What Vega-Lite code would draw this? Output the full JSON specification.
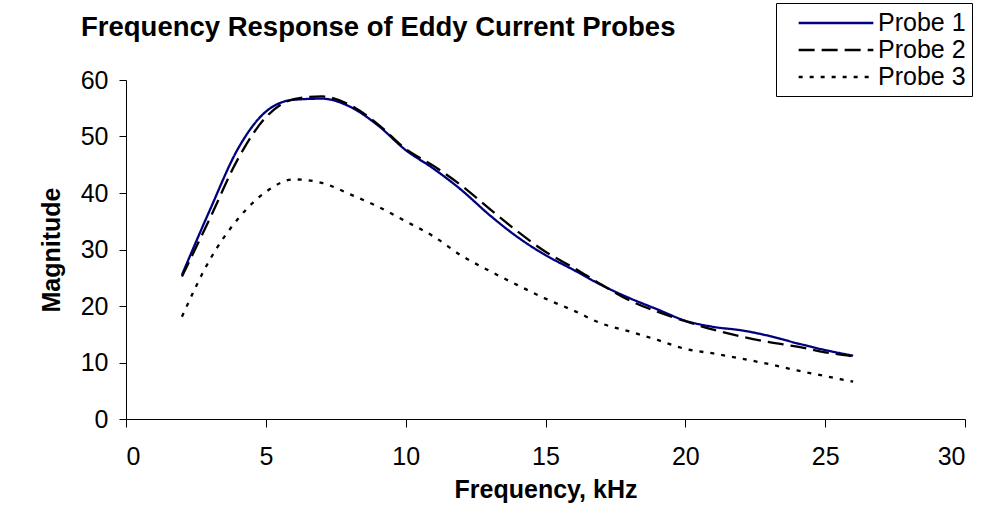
{
  "$schema": "https://vega.github.io/schema/vega-lite/v6.json",
  "width": 839,
  "height": 339,
  "autosize": {"type": "none"},
  "padding": {"left": 126, "top": 80, "right": 18, "bottom": 110},
  "background": "white",
  "title": {
    "text": "Frequency Response of Eddy Current Probes",
    "orient": "none",
    "anchor": "start",
    "frame": "group",
    "dx": -45,
    "dy": -44,
    "baseline": "alphabetic",
    "font": "Liberation Sans",
    "fontSize": 27.5,
    "fontWeight": "bold",
    "color": "black"
  },
  "data": {
    "values": [
      {"f": 2, "m": 25.5, "probe": "Probe 1"},
      {"f": 3, "m": 37.0, "probe": "Probe 1"},
      {"f": 4, "m": 47.8, "probe": "Probe 1"},
      {"f": 5, "m": 54.4, "probe": "Probe 1"},
      {"f": 6, "m": 56.5, "probe": "Probe 1"},
      {"f": 7, "m": 56.7, "probe": "Probe 1"},
      {"f": 8, "m": 55.3, "probe": "Probe 1"},
      {"f": 9, "m": 52.0, "probe": "Probe 1"},
      {"f": 10, "m": 47.6, "probe": "Probe 1"},
      {"f": 11, "m": 44.3, "probe": "Probe 1"},
      {"f": 12, "m": 40.5, "probe": "Probe 1"},
      {"f": 13, "m": 36.1, "probe": "Probe 1"},
      {"f": 14, "m": 32.2, "probe": "Probe 1"},
      {"f": 15, "m": 29.0, "probe": "Probe 1"},
      {"f": 16, "m": 26.4, "probe": "Probe 1"},
      {"f": 17, "m": 23.7, "probe": "Probe 1"},
      {"f": 18, "m": 21.4, "probe": "Probe 1"},
      {"f": 19, "m": 19.4, "probe": "Probe 1"},
      {"f": 20, "m": 17.4, "probe": "Probe 1"},
      {"f": 21, "m": 16.3, "probe": "Probe 1"},
      {"f": 22, "m": 15.7, "probe": "Probe 1"},
      {"f": 23, "m": 14.7, "probe": "Probe 1"},
      {"f": 24, "m": 13.4, "probe": "Probe 1"},
      {"f": 25, "m": 12.2, "probe": "Probe 1"},
      {"f": 26, "m": 11.2, "probe": "Probe 1"},
      {"f": 2, "m": 25.2, "probe": "Probe 2"},
      {"f": 3, "m": 35.5, "probe": "Probe 2"},
      {"f": 4, "m": 46.0, "probe": "Probe 2"},
      {"f": 5, "m": 53.4, "probe": "Probe 2"},
      {"f": 6, "m": 56.6, "probe": "Probe 2"},
      {"f": 7, "m": 57.1, "probe": "Probe 2"},
      {"f": 8, "m": 55.6, "probe": "Probe 2"},
      {"f": 9, "m": 52.2, "probe": "Probe 2"},
      {"f": 10, "m": 47.8, "probe": "Probe 2"},
      {"f": 11, "m": 44.8, "probe": "Probe 2"},
      {"f": 12, "m": 41.3, "probe": "Probe 2"},
      {"f": 13, "m": 37.2, "probe": "Probe 2"},
      {"f": 14, "m": 33.2, "probe": "Probe 2"},
      {"f": 15, "m": 29.6, "probe": "Probe 2"},
      {"f": 16, "m": 26.8, "probe": "Probe 2"},
      {"f": 17, "m": 23.8, "probe": "Probe 2"},
      {"f": 18, "m": 21.0, "probe": "Probe 2"},
      {"f": 19, "m": 19.0, "probe": "Probe 2"},
      {"f": 20, "m": 17.3, "probe": "Probe 2"},
      {"f": 21, "m": 15.8, "probe": "Probe 2"},
      {"f": 22, "m": 14.6, "probe": "Probe 2"},
      {"f": 23, "m": 13.6, "probe": "Probe 2"},
      {"f": 24, "m": 12.8, "probe": "Probe 2"},
      {"f": 25, "m": 11.8, "probe": "Probe 2"},
      {"f": 26, "m": 11.1, "probe": "Probe 2"},
      {"f": 2, "m": 18.1, "probe": "Probe 3"},
      {"f": 3, "m": 28.2, "probe": "Probe 3"},
      {"f": 4, "m": 35.4, "probe": "Probe 3"},
      {"f": 5, "m": 40.2, "probe": "Probe 3"},
      {"f": 6, "m": 42.4, "probe": "Probe 3"},
      {"f": 7, "m": 41.8, "probe": "Probe 3"},
      {"f": 8, "m": 39.8, "probe": "Probe 3"},
      {"f": 9, "m": 37.6, "probe": "Probe 3"},
      {"f": 10, "m": 35.0, "probe": "Probe 3"},
      {"f": 11, "m": 32.3, "probe": "Probe 3"},
      {"f": 12, "m": 28.9, "probe": "Probe 3"},
      {"f": 13, "m": 26.2, "probe": "Probe 3"},
      {"f": 14, "m": 23.7, "probe": "Probe 3"},
      {"f": 15, "m": 21.3, "probe": "Probe 3"},
      {"f": 16, "m": 19.2, "probe": "Probe 3"},
      {"f": 17, "m": 16.9, "probe": "Probe 3"},
      {"f": 18, "m": 15.5, "probe": "Probe 3"},
      {"f": 19, "m": 14.0, "probe": "Probe 3"},
      {"f": 20, "m": 12.4, "probe": "Probe 3"},
      {"f": 21, "m": 11.6, "probe": "Probe 3"},
      {"f": 22, "m": 10.7, "probe": "Probe 3"},
      {"f": 23, "m": 9.7, "probe": "Probe 3"},
      {"f": 24, "m": 8.6, "probe": "Probe 3"},
      {"f": 25, "m": 7.6, "probe": "Probe 3"},
      {"f": 26, "m": 6.6, "probe": "Probe 3"}
    ]
  },
  "mark": {"type": "line", "interpolate": "monotone", "strokeWidth": 2.3},
  "encoding": {
    "x": {
      "field": "f",
      "type": "quantitative",
      "title": "Frequency, kHz",
      "scale": {"domain": [0, 30], "nice": false},
      "axis": {"values": [0, 5, 10, 15, 20, 25, 30], "tickSize": 8, "labelPadding": 17, "titlePadding": 8}
    },
    "y": {
      "field": "m",
      "type": "quantitative",
      "title": "Magnitude",
      "scale": {"domain": [0, 60], "nice": false},
      "axis": {"values": [0, 10, 20, 30, 40, 50, 60], "tickSize": 7, "labelPadding": 11, "titlePadding": 16}
    },
    "color": {
      "field": "probe",
      "type": "nominal",
      "scale": {"domain": ["Probe 1", "Probe 2", "Probe 3"], "range": ["#000080", "black", "black"]},
      "legend": {
        "orient": "none",
        "legendX": 650,
        "legendY": -77,
        "title": null,
        "symbolType": "M-3,0H3",
        "symbolSize": 620,
        "symbolStrokeWidth": 2.3,
        "strokeColor": "black",
        "fillColor": "white",
        "padding": 6,
        "rowPadding": -4,
        "symbolOffset": 40,
        "labelOffset": 28,
        "labelFont": "Liberation Sans",
        "labelFontSize": 25,
        "labelColor": "black"
      }
    },
    "strokeDash": {
      "field": "probe",
      "type": "nominal",
      "scale": {"domain": ["Probe 1", "Probe 2", "Probe 3"], "range": [[1, 0], [16, 7], [4, 7]]}
    }
  },
  "config": {
    "view": {"stroke": null},
    "axis": {
      "grid": false,
      "domainColor": "black",
      "tickColor": "black",
      "labelColor": "black",
      "titleColor": "black",
      "labelFont": "Liberation Sans",
      "titleFont": "Liberation Sans",
      "labelFontSize": 25,
      "titleFontSize": 25,
      "titleFontWeight": "bold"
    }
  }
}
